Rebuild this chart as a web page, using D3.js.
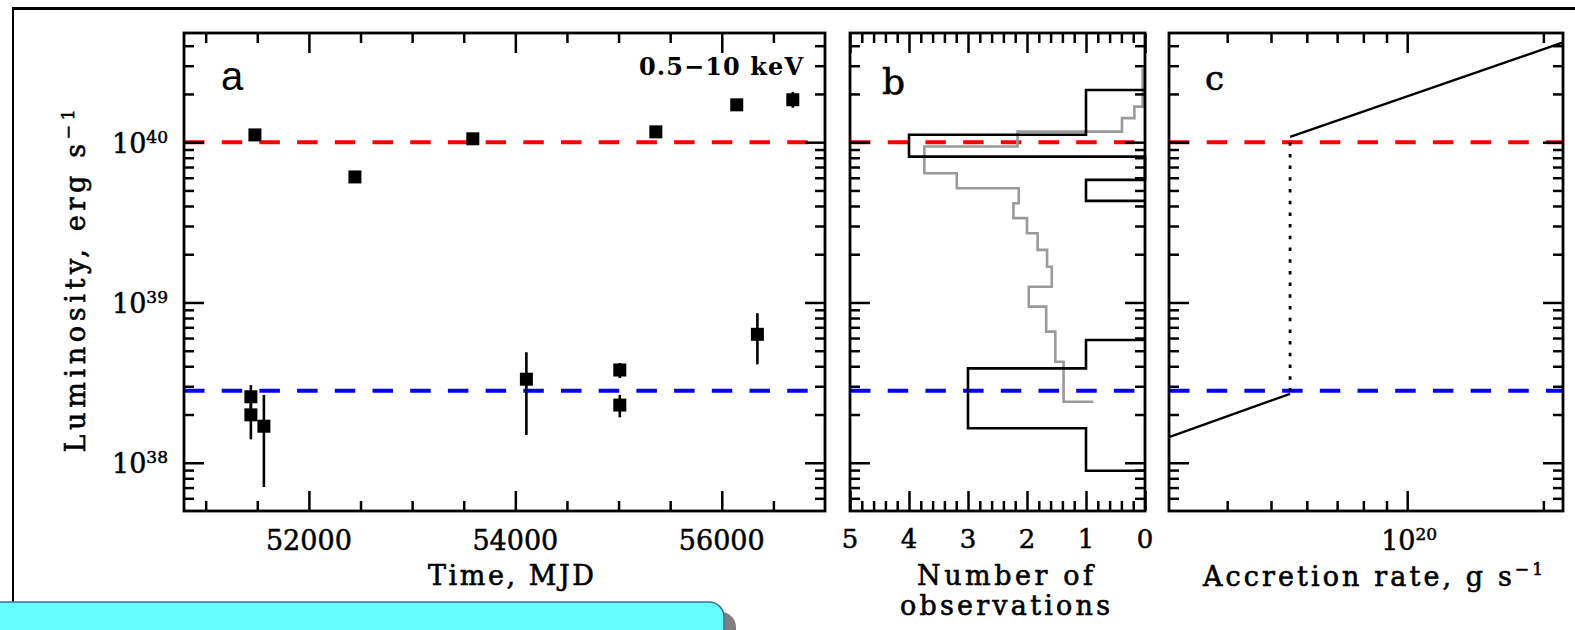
<!DOCTYPE html>
<html>
<head>
<meta charset="utf-8">
<script src="https://cdnjs.cloudflare.com/ajax/libs/d3/7.8.5/d3.min.js"></script>
<style>
  body { margin: 0; background: #fff; }
  svg { display: block; }
</style>
</head>
<body>
<div id="viz"></div>
<script>
var width = 1575,
    height = 630;

var serif = '"DejaVu Serif", serif';

// panel a: light curve (MJD, luminosity, error range)
var obsMjd   = [51438, 51438, 51564, 51477, 52446, 53588, 54107, 55012, 55012, 55361, 56145, 56345, 56688];
var obsLum   = [2.58e38, 1.99e38, 1.69e38, 1.11e40, 6.07e39, 1.05e40, 3.32e38, 3.79e38, 2.29e38, 1.16e40, 1.71e40, 6.33e38, 1.84e40];
var obsLumLo = [2.20e38, 1.40e38, 7.06e37, 1.08e40, 5.90e39, 1.02e40, 1.49e38, 3.38e38, 1.92e38, 1.13e40, 1.66e40, 4.11e38, 1.64e40];
var obsLumHi = [3.05e38, 2.40e38, 2.65e38, 1.14e40, 6.25e39, 1.08e40, 4.89e38, 4.19e38, 2.65e38, 1.19e40, 1.76e40, 8.57e38, 2.06e40];

// threshold levels (dashed lines)
var lumPropeller = 1e40,
    lumLow = 2.81e38;

// panel b: histogram of observations, log10(L) bin edges and counts
var histEdgesHigh  = [40.326, 40.046, 39.910, 39.765, 39.634];
var histCountsHigh = [1, 4, 0, 1];
var histEdgesLow   = [38.766, 38.589, 38.215, 37.950];
var histCountsLow  = [1, 3, 1];

// panel b: grey step curve
var greyEdges  = [40.462, 40.222, 40.150, 40.066, 39.973, 39.806, 39.713, 39.619, 39.526, 39.432, 39.328, 39.223, 39.098, 38.974, 38.818, 38.630, 38.381];
var greyCounts = [0.04, 0.18, 0.39, 2.16, 3.74, 3.19, 2.14, 2.23, 2.00, 1.82, 1.66, 1.58, 1.97, 1.675, 1.52, 1.38, 0.875];

// panel c: luminosity vs accretion rate
var mdotLowBranch  = [2.975e19, 5.51e19],
    lumLowBranch   = [1.445e38, 2.69e38];
var mdotHighBranch = [5.51e19, 2.21e20],
    lumHighBranch  = [1.08e40, 4.19e40];
var mdotJump = 5.51e19;

// ticks
var lumMajorTicks = [1e38, 1e39, 1e40],
    lumTickExp = ['38', '39', '40'];
var mjdMajorTicks = [52000, 54000, 56000];
var countMajorTicks = [5, 4, 3, 2, 1, 0];
var mdotMajorTicks = [1e20],
    mdotTickExp = ['20'];

var plotTop = 33, plotBottom = 511;
var ax0 = 184, ax1 = 825,
    bx0 = 850, bx1 = 1145,
    cx0 = 1169, cx1 = 1563;

var svg = d3.select('#viz')
  .append('svg')
  .attr('width', width)
  .attr('height', height)
  .style('background', '#fff');

// scales
var y = d3.scaleLog().domain([5e37, 4.8e40]).range([plotBottom, plotTop]);
var xa = d3.scaleLinear().domain([50790, 57000]).range([ax0, ax1]);
var xb = d3.scaleLinear().domain([5, 0]).range([bx0, bx1]);
var xc = d3.scaleLog().domain([2.975e19, 2.21e20]).range([cx0, cx1]);

//outer frame lines
svg.append('line').attr('x1', 12).attr('y1', 8.5).attr('x2', width).attr('y2', 8.5)
  .attr('stroke', '#000').attr('stroke-width', 3);
svg.append('line').attr('x1', 13).attr('y1', 8.5).attr('x2', 13).attr('y2', 615)
  .attr('stroke', '#000').attr('stroke-width', 2);

//dashed levels in every panel
function levels(x0, x1) {
  svg.append('line')
    .attr('x1', x0).attr('x2', x1)
    .attr('y1', y(lumPropeller)).attr('y2', y(lumPropeller))
    .attr('stroke', '#ff0000').attr('stroke-width', 4)
    .attr('stroke-dasharray', '20.5,17.2');
  svg.append('line')
    .attr('x1', x0).attr('x2', x1)
    .attr('y1', y(lumLow)).attr('y2', y(lumLow))
    .attr('stroke', '#0000ff').attr('stroke-width', 4)
    .attr('stroke-dasharray', '20.5,17.2');
}
levels(ax0, ax1);
levels(bx0, bx1);
levels(cx0, cx1);

// ---- panel a data
var ga = svg.append('g');
obsMjd.forEach(function(m, i) {
  ga.append('line')
    .attr('x1', xa(m)).attr('x2', xa(m))
    .attr('y1', y(obsLumLo[i])).attr('y2', y(obsLumHi[i]))
    .attr('stroke', '#000').attr('stroke-width', 2.6);
  ga.append('rect')
    .attr('x', xa(m) - 6.5).attr('y', y(obsLum[i]) - 6.5)
    .attr('width', 13).attr('height', 13)
    .style('fill', '#000');
});

// ---- panel b histograms
function histPoints(edges, counts) {
  var pts = [[0, edges[0]]];
  counts.forEach(function(c, i) {
    pts.push([c, edges[i]]);
    pts.push([c, edges[i + 1]]);
  });
  pts.push([0, edges[edges.length - 1]]);
  return pts;
}
var histLine = d3.line()
  .x(function(d) { return xb(d[0]); })
  .y(function(d) { return y(Math.pow(10, d[1])); });

var greyPts = [];
greyCounts.forEach(function(c, i) {
  greyPts.push([c, greyEdges[i]]);
  if (i < greyCounts.length - 1) greyPts.push([c, greyEdges[i + 1]]);
});
svg.append('path').attr('d', histLine(greyPts))
  .attr('fill', 'none').attr('stroke', '#9a9a9a').attr('stroke-width', 2.6);

[[histEdgesHigh, histCountsHigh], [histEdgesLow, histCountsLow]].forEach(function(h) {
  svg.append('path').attr('d', histLine(histPoints(h[0], h[1])))
    .attr('fill', 'none').attr('stroke', '#000').attr('stroke-width', 2.6);
});

// ---- panel c lines
var accLine = d3.line()
  .x(function(d) { return xc(d[0]); })
  .y(function(d) { return y(d[1]); });
svg.append('path').attr('d', accLine(d3.zip(mdotLowBranch, lumLowBranch)))
  .attr('fill', 'none').attr('stroke', '#000').attr('stroke-width', 2.4);
svg.append('path').attr('d', accLine(d3.zip(mdotHighBranch, lumHighBranch)))
  .attr('fill', 'none').attr('stroke', '#000').attr('stroke-width', 2.4);
svg.append('line')
  .attr('x1', xc(mdotJump)).attr('x2', xc(mdotJump))
  .attr('y1', y(lumPropeller)).attr('y2', y(lumLow))
  .attr('stroke', '#000').attr('stroke-width', 2.8)
  .attr('stroke-dasharray', '3.5,8.2');

// ---- axes (ticks inward on all four sides)
function styleAxis(sel) {
  sel.select('.domain').remove();
  sel.selectAll('.tick line').attr('stroke', '#000').attr('stroke-width', 2.5);
  sel.selectAll('.tick text').remove();
}

function inside(scale, v) {
  var p = scale(v), r = scale.range();
  return Math.abs(p - r[0]) > 3 && Math.abs(p - r[1]) > 3;
}

var lumMinor = y.ticks().filter(function(v) {
  return lumMajorTicks.indexOf(v) < 0 && inside(y, v);
});

function yAxes(x0, x1) {
  [[d3.axisLeft, x0], [d3.axisRight, x1]].forEach(function(a) {
    svg.append('g').attr('transform', 'translate(' + a[1] + ',0)')
      .call(a[0](y).tickValues(lumMajorTicks).tickSize(-20)).call(styleAxis);
    svg.append('g').attr('transform', 'translate(' + a[1] + ',0)')
      .call(a[0](y).tickValues(lumMinor).tickSize(-10)).call(styleAxis);
  });
}

function xAxes(scale, major, minor) {
  [[d3.axisBottom, plotBottom], [d3.axisTop, plotTop]].forEach(function(a) {
    svg.append('g').attr('transform', 'translate(0,' + a[1] + ')')
      .call(a[0](scale).tickValues(major).tickSize(-20)).call(styleAxis);
    svg.append('g').attr('transform', 'translate(0,' + a[1] + ')')
      .call(a[0](scale).tickValues(minor).tickSize(-10)).call(styleAxis);
  });
}

function frame(x0, x1) {
  svg.append('rect')
    .attr('x', x0).attr('y', plotTop)
    .attr('width', x1 - x0).attr('height', plotBottom - plotTop)
    .attr('fill', 'none').attr('stroke', '#000').attr('stroke-width', 2.8);
}

var mjdMinor = d3.range(51000, 57000, 500).filter(function(v) {
  return mjdMajorTicks.indexOf(v) < 0 && inside(xa, v);
});
var countMinor = d3.range(1, 25).filter(function(i) { return i % 5 !== 0; })
  .map(function(i) { return i * 0.2; });
var mdotMinor = xc.ticks().filter(function(v) {
  return mdotMajorTicks.indexOf(v) < 0 && inside(xc, v);
});

yAxes(ax0, ax1); xAxes(xa, mjdMajorTicks, mjdMinor); frame(ax0, ax1);
yAxes(bx0, bx1); xAxes(xb, countMajorTicks, countMinor); frame(bx0, bx1);
yAxes(cx0, cx1); xAxes(xc, mdotMajorTicks, mdotMinor); frame(cx0, cx1);

// ---- labels (a thin stroke makes the glyphs as heavy as the original)
function heavy(sel, w) {
  return sel.style('fill', '#000').style('stroke', '#000').style('stroke-width', w || 0.6);
}

function powLabel(x, yPos, exp, anchor) {
  var t = svg.append('text')
    .attr('x', x).attr('y', yPos)
    .attr('text-anchor', anchor)
    .style('font-family', serif).style('font-size', '27px');
  heavy(t, 0.5);
  t.append('tspan').text('10');
  t.append('tspan').attr('dy', -10).style('font-size', '17px').text(exp);
}

lumMajorTicks.forEach(function(v, i) {
  powLabel(ax0 - 16, y(v) + 10.5, lumTickExp[i], 'end');
});
mdotMajorTicks.forEach(function(v, i) {
  powLabel(xc(v) + 2, 550, mdotTickExp[i], 'middle');
});

heavy(svg.selectAll('.mjdlab').data(mjdMajorTicks).enter().append('text')
  .attr('x', function(d) { return xa(d); })
  .attr('y', 550)
  .attr('text-anchor', 'middle')
  .style('font-family', serif).style('font-size', '27px')
  .text(function(d) { return d; }), 0.5);

heavy(svg.selectAll('.cntlab').data(countMajorTicks).enter().append('text')
  .attr('x', function(d) { return xb(d); })
  .attr('y', 548)
  .attr('text-anchor', 'middle')
  .style('font-family', serif).style('font-size', '26px')
  .text(function(d) { return d; }), 0.5);

function title(x, yPos, txt, len) {
  return heavy(svg.append('text')
    .attr('x', x).attr('y', yPos)
    .attr('text-anchor', 'middle')
    .attr('textLength', len).attr('lengthAdjust', 'spacing')
    .style('font-family', serif).style('font-size', '27px')
    .text(txt));
}
title(511, 585, 'Time, MJD', 166);
title(1005, 585, 'Number of', 176);
title(1005, 615, 'observations', 210);

var tc = heavy(svg.append('text')
  .attr('x', 1373).attr('y', 586)
  .attr('text-anchor', 'middle')
  .attr('textLength', 340).attr('lengthAdjust', 'spacing')
  .style('font-family', serif).style('font-size', '27px'));
tc.append('tspan').text('Accretion rate, g s');
tc.append('tspan').attr('dy', -11).style('font-size', '17px').text('\u22121');

var ty = heavy(svg.append('text')
  .attr('transform', 'translate(85,281) rotate(-90)')
  .attr('text-anchor', 'middle')
  .attr('textLength', 343).attr('lengthAdjust', 'spacing')
  .style('font-family', serif).style('font-size', '27px'));
ty.append('tspan').text('Luminosity, erg s');
ty.append('tspan').attr('dy', -11).style('font-size', '17px').text('\u22121');

svg.append('text')
  .attr('x', 803).attr('y', 75)
  .attr('text-anchor', 'end')
  .attr('textLength', 164).attr('lengthAdjust', 'spacing')
  .style('font-family', serif).style('font-size', '24px').style('font-weight', 'bold')
  .text('0.5\u221210 keV');

// panel letters
svg.append('text').attr('x', 221).attr('y', 90)
  .style('font-family', '"Liberation Sans", sans-serif').style('font-size', '40px').text('a');
heavy(svg.append('text').attr('x', 882).attr('y', 94)
  .style('font-family', serif).style('font-size', '36px').text('b'), 0.6);
heavy(svg.append('text').attr('x', 1205).attr('y', 90)
  .style('font-family', serif).style('font-size', '34px').text('c'), 0.6);

// cyan note box at the bottom left, with shadow
var boxPath = 'M-5,602 H709 A15,15 0 0 1 724,617 V640 H-5 Z';
svg.append('path').attr('d', boxPath)
  .attr('transform', 'translate(12,10)')
  .style('fill', '#7f7f7f');
svg.append('path').attr('d', boxPath)
  .style('fill', '#66ffff')
  .attr('stroke', '#3d6fa8').attr('stroke-width', 1.5);
</script>
</body>
</html>
